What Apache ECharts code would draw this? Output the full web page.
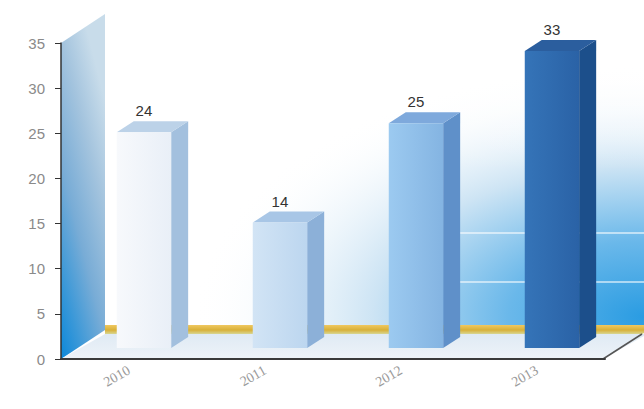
<!DOCTYPE html>
<html><head><meta charset="utf-8">
<script src="https://cdn.jsdelivr.net/npm/echarts@6/dist/echarts.min.js"></script>
<style>html,body{margin:0;padding:0;background:#fff}#c{width:644px;height:409px}</style>
</head><body><div id="c"></div>
<script>
var categories = ['2010', '2011', '2012', '2013'];
var values = [24, 14, 25, 33];
var yTicks = [0, 5, 10, 15, 20, 25, 30, 35];

var faceColors = [
  {front: ['#f7f9fc', '#e9eff7'], side: '#a3c0de', top: '#bcd2e8'},
  {front: ['#d2e4f5', '#bcd6ef'], side: '#8cb0d8', top: '#a8c6e6'},
  {front: ['#9ccaf0', '#84b4e2'], side: '#5f90c9', top: '#7ea9dc'},
  {front: ['#3574b8', '#2a62a6'], side: '#1c4f8b', top: '#2b5e9e'}
];

var chart = echarts.init(document.getElementById('c'), null, {renderer: 'svg'});

function renderItem(params, api) {
  var idx = api.value(0), val = api.value(1);
  var p0 = api.coord([idx, 0]);
  var p1 = api.coord([idx, val]);
  var bw = api.size([1, 0])[0];
  var cx = p0[0];
  var fl = cx - 0.09 * bw, fw = 0.40 * bw;
  var dx = 0.125 * bw, dy = 11, lift = 10;
  var top = p1[1] - lift, bottom = p0[1] - 11;
  var fc = faceColors[idx];
  return {
    type: 'group',
    children: [
      {type: 'polygon', shape: {points: [[fl + fw, top], [fl + fw + dx, top - dy], [fl + fw + dx, bottom - dy], [fl + fw, bottom]]},
        style: {fill: fc.side}},
      {type: 'polygon', shape: {points: [[fl, top], [fl + dx, top - dy], [fl + fw + dx, top - dy], [fl + fw, top]]},
        style: {fill: fc.top}},
      {type: 'rect', shape: {x: fl, y: top, width: fw, height: bottom - top},
        style: {fill: new echarts.graphic.LinearGradient(0, 0, 1, 0, [{offset: 0, color: fc.front[0]}, {offset: 1, color: fc.front[1]}])}},
      {type: 'text', style: {text: String(val), x: fl + fw / 2, y: top - dy - 3, align: 'center', verticalAlign: 'bottom',
        fill: '#333', fontSize: 15, fontFamily: 'Liberation Sans'}}
    ]
  };
}

var option = {
  backgroundColor: '#ffffff',
  animation: false,
  grid: {left: 61, right: 39, top: 43, bottom: 50},
  graphic: [
    {type: 'rect', z: -10, shape: {x: 0, y: 0, width: 644, height: 360},
      style: {fill: new echarts.graphic.RadialGradient(1.0, 0.88, 0.7, [
        {offset: 0, color: '#2a9ce2'}, {offset: 0.3, color: '#6ab8ea'}, {offset: 0.6, color: '#cde4f4'}, {offset: 1, color: 'rgba(255,255,255,0)'}])}},
    {type: 'rect', z: -9, shape: {x: 0, y: 0, width: 644, height: 170},
      style: {fill: new echarts.graphic.LinearGradient(0, 0, 0, 1, [{offset: 0, color: 'rgba(255,255,255,1)'}, {offset: 1, color: 'rgba(255,255,255,0)'}])}},
    {type: 'line', z: -8, shape: {x1: 455, y1: 233, x2: 644, y2: 233}, style: {stroke: 'rgba(255,255,255,0.55)', lineWidth: 2}},
    {type: 'line', z: -8, shape: {x1: 455, y1: 282, x2: 644, y2: 282}, style: {stroke: 'rgba(255,255,255,0.55)', lineWidth: 2}},
    {type: 'polygon', z: -7, shape: {points: [[61, 43], [105, 14], [105, 330], [61, 359]]},
      style: {fill: new echarts.graphic.LinearGradient(0, 1, 0.5, 0, [
        {offset: 0, color: '#0c88da'}, {offset: 0.2, color: '#3a98d8'}, {offset: 0.45, color: '#78acd6'}, {offset: 0.75, color: '#a4c4de'}, {offset: 1, color: '#c8dcea'}])}},
    {type: 'rect', z: -7, shape: {x: 105, y: 325, width: 539, height: 10},
      style: {fill: new echarts.graphic.LinearGradient(0, 0, 0, 1, [
        {offset: 0, color: '#f0c860'}, {offset: 0.5, color: '#d8b038'}, {offset: 1, color: '#d8e0a8'}])}},
    {type: 'polygon', z: -7, shape: {points: [[0, 359], [603, 359], [644, 333], [644, 409], [0, 409]]},
      style: {fill: '#ffffff'}},
    {type: 'polygon', z: -6, shape: {points: [[61, 359], [105, 334], [644, 334], [644, 336], [603, 359]]},
      style: {fill: new echarts.graphic.LinearGradient(0, 0, 0, 1, [{offset: 0, color: '#dfeaf4'}, {offset: 1, color: '#eef3f8'}])}},
    {type: 'line', z: -5, shape: {x1: 603, y1: 359, x2: 642, y2: 334}, style: {stroke: '#555', lineWidth: 1.5}}
  ],
  xAxis: {
    type: 'category', data: categories,
    axisLine: {show: true, lineStyle: {color: '#3a3a3a', width: 2}},
    axisTick: {show: false},
    axisLabel: {rotate: 30, margin: 10, color: '#9a9a9a', fontSize: 14, fontFamily: 'Liberation Serif'}
  },
  yAxis: {
    type: 'value', min: 0, max: 35, interval: 5,
    axisLine: {show: true, lineStyle: {color: '#333', width: 1.5}},
    axisTick: {show: true, length: 6, lineStyle: {color: '#333'}},
    splitLine: {show: false},
    axisLabel: {margin: 16, color: '#8a8a8a', fontSize: 15, fontFamily: 'Liberation Sans',
      formatter: function (v) { return yTicks.indexOf(v) >= 0 ? String(v) : ''; }}
  },
  series: [{
    type: 'custom', renderItem: renderItem, z: 5,
    data: values.map(function (v, i) { return [i, v]; }),
    encode: {x: 0, y: 1}
  }]
};
chart.setOption(option);
</script></body></html>
